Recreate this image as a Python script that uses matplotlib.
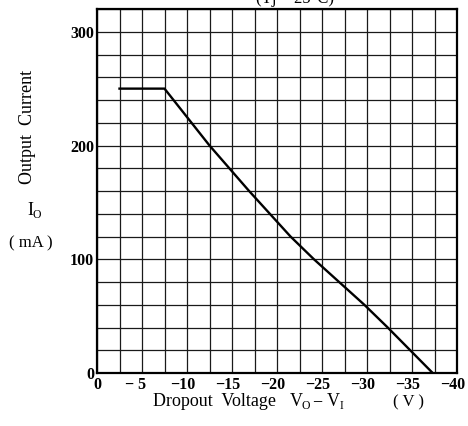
import matplotlib
matplotlib.use("Agg")
import matplotlib.pyplot as plt
import matplotlib.transforms as mtransforms
import numpy as np

# dropout voltage (V) vs output current (mA)
volt = [-2.5, -7.5, -8.5, -10.5, -12.5, -14.7, -16.9, -19.2, -21.5, -24.1,
        -26.9, -29.7, -32.3, -34.8, -37.3]
curr = [250, 250, 240, 220, 200, 180, 160, 140, 120, 100,
        80, 60, 40, 20, 0]

xticks = [0, -5, -10, -15, -20, -25, -30, -35, -40]
xticklabels = ["0", "− 5", "−10", "−15", "−20", "−25", "−30", "−35", "−40"]
yticks = [0, 100, 200, 300]
yticklabels = ["0", "100", "200", "300"]

plt.rcParams['font.family'] = ['Liberation Serif', 'DejaVu Serif']

fig = plt.figure(figsize=(4.68, 4.26), dpi=100)
ax = fig.add_axes([97/468, 1 - 373/426, 360/468, 364/426])

ax.plot(volt, curr, color='black', lw=1.7, solid_joinstyle='miter')

ax.set_xlim(0, -40)
ax.set_ylim(0, 320)

ax.set_xticks(np.arange(0, -40.1, -2.5), minor=True)
ax.set_yticks(np.arange(0, 321, 20), minor=True)
ax.set_xticks(xticks)
ax.set_yticks(yticks)
ax.grid(which='both', color='#1a1a1a', lw=0.9)
ax.tick_params(which='both', length=0)
ax.tick_params(axis='x', pad=3)
ax.tick_params(axis='y', pad=2)

ax.set_xticklabels(xticklabels, fontsize=11.5, fontweight='bold')
ax.set_yticklabels(yticklabels, fontsize=11.5, fontweight='bold')

# keep the digits centred on the tick, the minus sign hangs to the left
for lab, txt in zip(ax.get_xticklabels(), xticklabels):
    ndig = sum(c.isdigit() for c in txt)
    if txt.startswith("−"):
        lab.set_ha('right')
        off = mtransforms.ScaledTranslation(ndig * 2.9 / 72, 0, fig.dpi_scale_trans)
        lab.set_transform(lab.get_transform() + off)

for s in ax.spines.values():
    s.set_linewidth(1.6)

def px(x, y):
    return x / 468, 1 - y / 426

# x axis caption
fig.text(*px(153, 406), "Dropout  Voltage", fontsize=13, va='baseline')
fig.text(*px(290, 406), "V", fontsize=13, va='baseline')
fig.text(*px(302, 409), "O", fontsize=8.5, va='baseline')
fig.text(*px(312, 406), "−", fontsize=13, va='baseline')
fig.text(*px(327, 406), "V", fontsize=13, va='baseline')
fig.text(*px(340, 409), "I", fontsize=8.5, va='baseline')
fig.text(*px(393, 406), "( V )", fontsize=12, va='baseline')

# y axis caption
fig.text(*px(28, 127), "Output  Current", fontsize=13, rotation=90,
         ha='center', va='center')
fig.text(*px(30, 215), "I", fontsize=13, ha='center', va='baseline')
fig.text(*px(37, 218), "O", fontsize=8.5, ha='center', va='baseline')
fig.text(*px(31, 243), "( mA )", fontsize=12, ha='center', va='center')

# condition line, cut off at the top edge as in the original scan
fig.text(*px(295, 3), "(Tj = 25°C)", fontsize=12, ha='center', va='baseline')

fig.savefig("out.png", dpi=100)
